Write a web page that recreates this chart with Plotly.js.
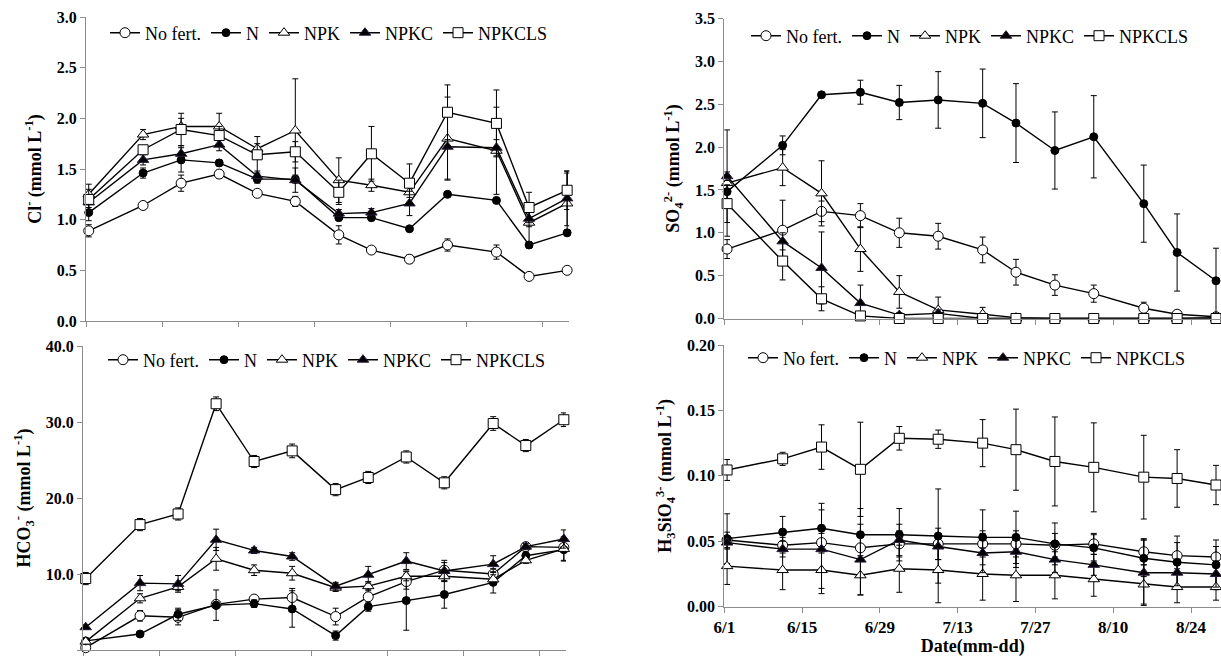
<!DOCTYPE html>
<html>
<head>
<meta charset="utf-8">
<script src="https://cdn.plot.ly/plotly-3.0.1.min.js"></script>
<style>
html,body{margin:0;padding:0;background:#fff;}
#chart{width:1221px;height:657px;}
</style>
</head>
<body>
<div id="chart"></div>
<script>
// ---- data ----
var dates = ['2013-06-01','2013-06-11','2013-06-18','2013-06-25','2013-07-02','2013-07-09','2013-07-17','2013-07-23','2013-07-30','2013-08-06','2013-08-15','2013-08-21','2013-08-28'];
var seriesNames = ['No fert.','N','NPK','NPKC','NPKCLS'];

// Cl- (mmol L-1)
var clNoFert    = [0.89,1.14,1.36,1.45,1.26,1.18,0.85,0.70,0.61,0.75,0.68,0.44,0.50];
var clNoFertErr = [0.06,0.03,0.08,0.04,0.02,0.05,0.09,0.03,0.04,0.06,0.07,0.03,0.03];
var clN         = [1.07,1.46,1.59,1.56,1.40,1.40,1.02,1.02,0.91,1.25,1.19,0.75,0.87];
var clNErr      = [0.08,0.05,0.12,0.03,0.04,0.04,0.03,0.03,0.02,0.02,0.02,0.03,0.03];
var clNPK       = [1.25,1.84,1.92,1.92,1.70,1.88,1.39,1.34,1.27,1.80,1.68,0.97,1.16];
var clNPKErr    = [0.05,0.05,0.08,0.13,0.05,0.51,0.22,0.06,0.05,0.41,0.43,0.19,0.30];
var clNPKC      = [1.17,1.59,1.65,1.74,1.43,1.39,1.06,1.07,1.16,1.72,1.71,1.01,1.21];
var clNPKCErr   = [0.05,0.05,0.08,0.06,0.05,0.12,0.04,0.04,0.12,0.32,0.08,0.08,0.27];
var clNPKCLS    = [1.20,1.69,1.89,1.83,1.64,1.67,1.27,1.65,1.36,2.06,1.95,1.12,1.29];
var clNPKCLSErr = [0.15,0.04,0.16,0.09,0.18,0.10,0.12,0.27,0.19,0.27,0.33,0.15,0.19];

// SO4 2- (mmol L-1)
var so4NoFert    = [0.81,1.03,1.25,1.20,1.00,0.96,0.80,0.54,0.39,0.29,0.12,0.05,0.02];
var so4NoFertErr = [0.11,0.35,0.12,0.14,0.17,0.15,0.15,0.15,0.12,0.10,0.07,0.03,0.02];
var so4N         = [1.48,2.02,2.61,2.64,2.52,2.55,2.51,2.28,1.96,2.12,1.34,0.77,0.44];
var so4NErr      = [0.08,0.11,0.03,0.14,0.20,0.33,0.40,0.46,0.45,0.48,0.45,0.45,0.38];
var so4NPK       = [1.58,1.76,1.46,0.81,0.31,0.10,0.05,0.01,0.00,0.00,0.00,0.00,0.01];
var so4NPKErr    = [0.62,0.21,0.38,0.26,0.19,0.15,0.08,0.01,0.00,0.00,0.00,0.00,0.01];
var so4NPKC      = [1.66,0.90,0.59,0.18,0.04,0.06,0.00,0.00,0.00,0.00,0.00,0.00,0.00];
var so4NPKCErr   = [0.05,0.10,0.42,0.21,0.03,0.04,0.00,0.00,0.00,0.00,0.00,0.00,0.00];
var so4NPKCLS    = [1.34,0.67,0.23,0.03,0.00,0.00,0.00,0.00,0.00,0.00,0.00,0.00,0.00];
var so4NPKCLSErr = [0.22,0.22,0.14,0.02,0.00,0.00,0.00,0.00,0.00,0.00,0.00,0.00,0.00];

// HCO3- (mmol L-1)
var hcoNoFert    = [0.3,4.5,4.3,6.0,6.7,6.9,4.4,7.0,9.0,10.5,10.0,13.6,13.5];
var hcoNoFertErr = [0.3,0.7,1.0,0.5,0.4,1.2,1.1,1.0,1.0,1.0,0.7,0.5,0.5];
var hcoN         = [1.2,2.1,4.7,5.9,6.1,5.4,1.9,5.7,6.5,7.3,8.9,12.4,13.2];
var hcoNErr      = [0.3,0.3,0.8,2.0,0.5,2.4,0.6,0.6,3.9,1.8,1.4,0.5,1.4];
var hcoNPK       = [1.1,6.8,8.3,12.0,10.5,10.1,8.2,8.4,9.7,9.7,9.3,11.8,13.3];
var hcoNPKErr    = [0.3,0.6,0.5,1.5,0.7,0.9,0.5,0.6,0.6,0.6,0.6,0.4,1.6];
var hcoNPKC      = [3.0,8.8,8.7,14.5,13.1,12.3,8.4,9.9,11.7,10.4,11.3,13.6,14.6];
var hcoNPKCErr   = [0.3,1.0,1.1,1.4,0.4,0.5,0.5,1.1,1.1,1.4,1.1,0.4,1.2];
var hcoNPKCLS    = [9.4,16.5,17.9,32.4,24.8,26.2,21.1,22.7,25.4,22.0,29.8,26.9,30.3];
var hcoNPKCLSErr = [0.8,0.8,0.8,0.9,0.8,0.9,0.8,0.8,0.8,0.8,0.9,0.8,0.9];

// H3SiO4 3- (mmol L-1)
var siNoFert    = [0.051,0.047,0.049,0.045,0.048,0.048,0.048,0.048,0.047,0.048,0.042,0.039,0.038];
var siNoFertErr = [0.006,0.006,0.007,0.008,0.010,0.012,0.010,0.010,0.009,0.008,0.010,0.010,0.008];
var siN         = [0.052,0.057,0.060,0.055,0.055,0.054,0.053,0.053,0.048,0.045,0.037,0.034,0.032];
var siNErr      = [0.019,0.012,0.019,0.020,0.020,0.036,0.021,0.020,0.016,0.010,0.014,0.020,0.019];
var siNPK       = [0.031,0.028,0.028,0.024,0.029,0.028,0.025,0.024,0.024,0.021,0.017,0.015,0.015];
var siNPKErr    = [0.014,0.015,0.018,0.015,0.018,0.025,0.020,0.020,0.018,0.013,0.015,0.012,0.010];
var siNPKC      = [0.049,0.044,0.044,0.036,0.051,0.046,0.041,0.042,0.036,0.032,0.026,0.026,0.025];
var siNPKCErr   = [0.005,0.006,0.030,0.027,0.012,0.010,0.015,0.012,0.010,0.008,0.025,0.010,0.010];
var siNPKCLS    = [0.1045,0.113,0.122,0.105,0.1287,0.128,0.125,0.120,0.111,0.1065,0.099,0.098,0.093];
var siNPKCLSErr = [0.008,0.005,0.017,0.036,0.009,0.007,0.018,0.031,0.034,0.034,0.032,0.022,0.015];

var panelValues = [
  [clNoFert, clN, clNPK, clNPKC, clNPKCLS],
  [so4NoFert, so4N, so4NPK, so4NPKC, so4NPKCLS],
  [hcoNoFert, hcoN, hcoNPK, hcoNPKC, hcoNPKCLS],
  [siNoFert, siN, siNPK, siNPKC, siNPKCLS]
];
var panelErrors = [
  [clNoFertErr, clNErr, clNPKErr, clNPKCErr, clNPKCLSErr],
  [so4NoFertErr, so4NErr, so4NPKErr, so4NPKCErr, so4NPKCLSErr],
  [hcoNoFertErr, hcoNErr, hcoNPKErr, hcoNPKCErr, hcoNPKCLSErr],
  [siNoFertErr, siNErr, siNPKErr, siNPKCErr, siNPKCLSErr]
];

// ---- styles ----
var FONT = 'Liberation Serif, Times New Roman, serif';
var markerStyles = [
  {symbol:'circle', size:10, color:'#ffffff', line:{color:'#000', width:1}},
  {symbol:'circle', size:8, color:'#000000', line:{color:'#000', width:1}},
  {symbol:'triangle-up', size:10, color:'#ffffff', line:{color:'#000', width:1}},
  {symbol:'triangle-up', size:10, color:'#000000', line:{color:'#2a1a3a', width:1}},
  {symbol:'square', size:10, color:'#ffffff', line:{color:'#000', width:1}}
];
var axisSuffix = ['', '2', '3', '4'];
var legendIds = ['legend', 'legend2', 'legend3', 'legend4'];

var traces = [];
for (var p = 0; p < 4; p++) {
  for (var s = 0; s < 5; s++) {
    traces.push({
      type: 'scatter',
      mode: 'lines+markers',
      name: seriesNames[s],
      x: dates,
      y: panelValues[p][s],
      xperiod: 86400000,
      xperiodalignment: 'middle',
      xaxis: 'x' + axisSuffix[p],
      yaxis: 'y' + axisSuffix[p],
      legend: legendIds[p],
      cliponaxis: false,
      line: {color: '#000', width: 1.4},
      marker: markerStyles[s],
      error_y: {type: 'data', array: panelErrors[p][s], visible: true, color: '#000', thickness: 1, width: 3}
    });
  }
}

var W = 1221, H = 657;
function xd(a, b) { return [a / W, b / W]; }
function yd(top, bottom) { return [1 - bottom / H, 1 - top / H]; }

var tickFont = {family: FONT, size: 16, color: '#000', weight: 'bold'};
var titleFont = {family: FONT, size: 18, color: '#000', weight: 'bold'};
var axLine = '#8c8c8c';

function xAxis(domain, anchor, endDate, showLabels) {
  return {
    domain: domain, anchor: anchor, type: 'date',
    range: ['2013-06-01', endDate],
    tick0: '2013-06-01', dtick: 14 * 86400000,
    tickformat: '%-m/%-d',
    showticklabels: showLabels,
    ticks: 'outside', ticklen: 5, tickcolor: axLine, tickwidth: 1,
    showline: true, linecolor: axLine, linewidth: 1,
    showgrid: false, zeroline: false,
    tickfont: {family: FONT, size: 17, color: '#000', weight: 'bold'}
  };
}
function yAxis(domain, anchor, range, dtick, fmt, title) {
  return {
    domain: domain, anchor: anchor, range: range, dtick: dtick, tick0: 0,
    tickformat: fmt,
    ticks: 'outside', ticklen: 5, tickcolor: axLine, tickwidth: 1,
    showline: true, linecolor: axLine, linewidth: 1,
    showgrid: false, zeroline: false,
    tickfont: tickFont,
    title: {text: title, font: titleFont, standoff: 10}
  };
}
function legendAt(x, y) {
  return {
    orientation: 'h', x: x, y: y, xanchor: 'left', yanchor: 'middle',
    font: {family: FONT, size: 18, color: '#000'},
    bgcolor: 'rgba(0,0,0,0)', borderwidth: 0,
    itemclick: false, itemdoubleclick: false, tracegroupgap: 0
  };
}

var layout = {
  width: W, height: H,
  margin: {l: 0, r: 0, t: 0, b: 0},
  paper_bgcolor: '#fff', plot_bgcolor: '#fff',
  showlegend: true,
  font: {family: FONT, color: '#000'},
  xaxis:  xAxis(xd(86, 569.3), 'y', '2013-08-28 21:36', false),
  yaxis:  yAxis(yd(17, 321), 'x', [0, 3], 0.5, '.1f', '<b>Cl<sup>-</sup> (mmol L<sup>-1</sup>)</b>'),
  xaxis2: xAxis(xd(724.3, 1221), 'y2', '2013-08-29 09:36', false),
  yaxis2: yAxis(yd(18.5, 318.5), 'x2', [0, 3.5], 0.5, '.1f', '<b>SO<sub>4</sub><sup>2-</sup> (mmol L<sup>-1</sup>)</b>'),
  xaxis3: xAxis(xd(83, 566), 'y3', '2013-08-28 21:36', false),
  yaxis3: yAxis(yd(346, 650), 'x3', [0, 40], 10, '.1f', '<b>HCO<sub>3</sub><sup>-</sup> (mmol L<sup>-1</sup>)</b>'),
  xaxis4: xAxis(xd(724.3, 1221), 'y4', '2013-08-29 09:36', true),
  yaxis4: yAxis(yd(345, 606.7), 'x4', [0, 0.2], 0.05, '.2f', '<b>H<sub>3</sub>SiO<sub>4</sub><sup>3-</sup> (mmol L<sup>-1</sup>)</b>'),
  legend:  legendAt(105 / W, 1 - 33 / H),
  legend2: legendAt(746 / W, 1 - 36 / H),
  legend3: legendAt(103 / W, 1 - 360 / H),
  legend4: legendAt(743 / W, 1 - 358 / H)
};
layout.xaxis4.title = {text: '<b>Date(mm-dd)</b>', font: titleFont, standoff: 4};

Plotly.newPlot('chart', traces, layout, {staticPlot: true, displayModeBar: false});
</script>
</body>
</html>
